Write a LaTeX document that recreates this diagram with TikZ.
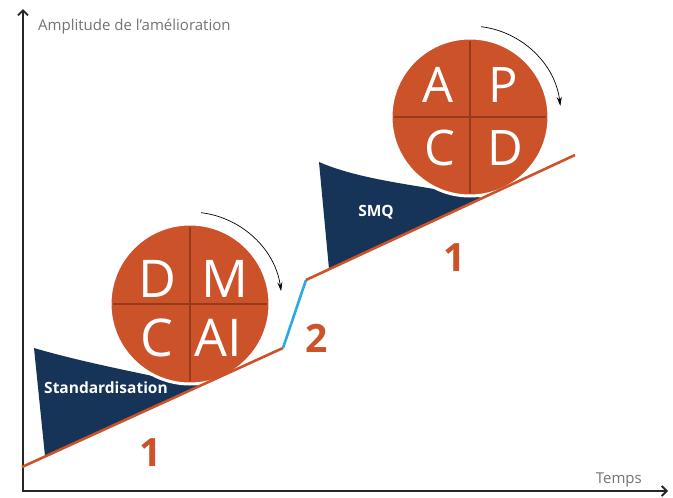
\documentclass[tikz,border=0pt]{standalone}
\usepackage{fontspec}
\setmainfont{Open Sans}
\usetikzlibrary{arrows.meta,calc}

\definecolor{orangeroux}{RGB}{204,82,42}
\definecolor{brunfonce}{RGB}{150,58,28}
\definecolor{bleunuit}{RGB}{22,52,88}
\definecolor{bleuciel}{RGB}{41,170,226}
\definecolor{grisaxe}{RGB}{115,115,115}

\begin{document}
\begin{tikzpicture}[x=1pt, y=-1pt]

    % Styles
    \tikzstyle{axe} = [line width=1.8pt, black!85, {Straight Barb[length=5pt,width=10pt]}-{Straight Barb[length=5pt,width=10pt]}]
    \tikzstyle{legende} = [text=grisaxe, font=\fontsize{15}{17}\selectfont, inner sep=0pt]
    \tikzstyle{roue} = [circle, minimum size=160pt, inner sep=0pt, outer sep=0pt, fill=orangeroux, draw=white, line width=3pt]
    \tikzstyle{quart} = [brunfonce, line width=1.2pt, shorten >=3pt, shorten <=3pt]
    \tikzstyle{lettre} = [text=white, anchor=base, inner sep=0pt, font=\fontsize{52}{52}\selectfont]
    \tikzstyle{rotation} = [line width=0.7pt, -{Stealth[length=9pt, width=5pt]}]
    \tikzstyle{pente} = [orangeroux, line width=2.6pt]
    \tikzstyle{saut} = [bleuciel, line width=2.6pt]
    \tikzstyle{cale} = [fill=bleunuit]
    \tikzstyle{nomcale} = [text=white, inner sep=0pt, font=\fontsize{15.5}{17}\selectfont\bfseries]
    \tikzstyle{etape} = [text=orangeroux, inner sep=0pt, font=\fontsize{39}{39}\selectfont\bfseries]

    \useasboundingbox (0,0) rectangle (673,498);

    % Axes
    \coordinate (hautY) at (23,9);
    \coordinate (origine) at (23,491);
    \coordinate (finX) at (668,491);
    \draw [axe] (hautY) -- (origine) -- (finX);
    \node (amplitude) [legende, anchor=west] at (38,27) {Amplitude de l’amélioration};
    \node (temps) [legende, anchor=east] at (642,480) {Temps};

    % Cales
    \fill [cale] (34,348) .. controls (85,363) and (145,374) .. (200,386) -- (45,456) -- cycle;
    \fill [cale] (319,162) .. controls (365,182) and (430,186) .. (482,198) -- (329,269) -- cycle;
    \node (standard) [nomcale] at (106,388) {Standardisation};
    \node (smq) [nomcale] at (376,212) {SMQ};

    % Roues
    \node (dmcai) [roue] at (190,304) {};
    \node (apcd) [roue, minimum size=158pt] at (470,117) {};
    \draw [quart] (dmcai.north) -- (dmcai.south);
    \draw [quart] (dmcai.west) -- (dmcai.east);
    \draw [quart] (apcd.north) -- (apcd.south);
    \draw [quart] (apcd.west) -- (apcd.east);

    \node (d1) [lettre] at ($(dmcai)+(-33,-7)$) {D};
    \node (m1) [lettre] at ($(dmcai)+(35,-7)$) {M};
    \node (c1) [lettre] at ($(dmcai)+(-33,52)$) {C};
    \node (ai1) [lettre] at ($(dmcai)+(28,52)$) {AI};

    \node (a2) [lettre, font=\fontsize{49}{49}\selectfont] at ($(apcd)+(-32,-15)$) {A};
    \node (p2) [lettre, font=\fontsize{49}{49}\selectfont] at ($(apcd)+(33,-15)$) {P};
    \node (c2) [lettre, font=\fontsize{49}{49}\selectfont] at ($(apcd)+(-30,48)$) {C};
    \node (d2) [lettre, font=\fontsize{49}{49}\selectfont] at ($(apcd)+(35,48)$) {D};

    % Pentes
    \coordinate (bas1) at (22,467);
    \coordinate (haut1) at (283,348);
    \coordinate (bas2) at (306,280);
    \coordinate (haut2) at (575,155);
    \draw [pente] (bas1) -- (haut1);
    \draw [saut] (haut1) -- (bas2);
    \draw [pente] (bas2) -- (haut2);

    % Fleches de rotation
    \draw [rotation] ($(dmcai)+(-83:92)$) arc[start angle=-83, end angle=-8, radius=92];
    \draw [rotation] ($(apcd)+(-83:91)$) arc[start angle=-83, end angle=-7, radius=91];

    % Etapes
    \node (un) [etape] at (151,453) {1};
    \node (deux) [etape] at (317,338) {2};
    \node (unbis) [etape] at (455,258) {1};

\end{tikzpicture}
\end{document}
